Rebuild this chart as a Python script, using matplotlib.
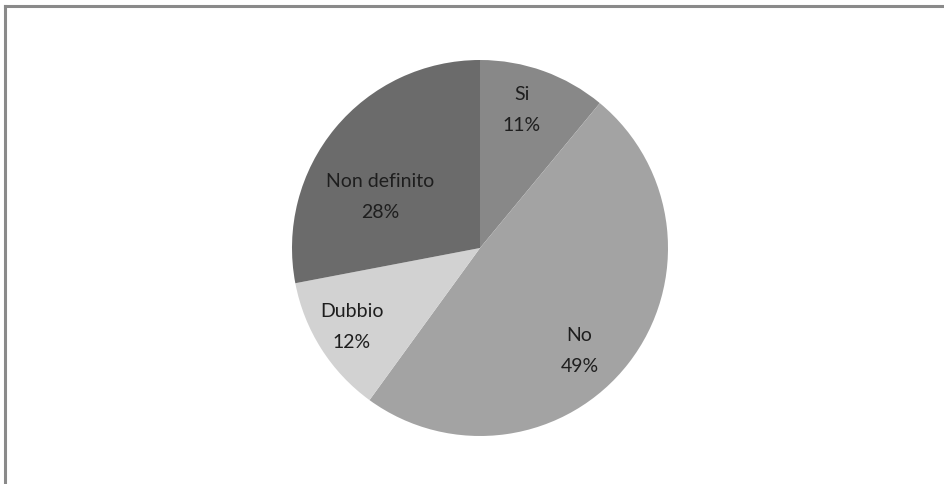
import numpy as np
import matplotlib
matplotlib.use("Agg")
import matplotlib.pyplot as plt
from matplotlib.lines import Line2D

# Survey answers
categories = ["Si", "No", "Dubbio", "Non definito"]
percentages = [11, 49, 12, 28]

colors = ["#888888", "#a3a3a3", "#d2d2d2", "#6b6b6b"]
# label placement: radial distance and angular nudge (degrees) per slice
label_dist = [0.77, 0.76, 0.80, 0.60]
label_shift = [3, -8, -1, 12]

plt.rcParams["font.family"] = ["Lato", "DejaVu Sans"]

fig = plt.figure(figsize=(9.44, 4.85), dpi=100)
fig.patch.set_facecolor("white")

# Chart frame (top and left edges visible)
fig.add_artist(Line2D([5 / 944, 1.0], [1 - 7 / 485, 1 - 7 / 485],
                      transform=fig.transFigure, color="#8a8a8a", lw=2.2))
fig.add_artist(Line2D([5 / 944, 5 / 944], [0.0, 1 - 7 / 485],
                      transform=fig.transFigure, color="#8a8a8a", lw=2.2))

cx, cy, r = 480 / 944, 1 - 249 / 485, 188
ax = fig.add_axes([cx - r / 944, cy - r / 485, 2 * r / 944, 2 * r / 485])
wedges, _ = ax.pie(percentages, colors=colors, startangle=90, counterclock=False,
                   radius=1.0, wedgeprops=dict(linewidth=0))
ax.set_xlim(-1, 1)
ax.set_ylim(-1, 1)
ax.set_aspect("auto")
ax.axis("off")

for w, name, pct, d, s in zip(wedges, categories, percentages, label_dist, label_shift):
    mid = np.deg2rad((w.theta1 + w.theta2) / 2 + s)
    ax.text(d * np.cos(mid), d * np.sin(mid), f"{name}\n{pct}%",
            ha="center", va="center", fontsize=14, color="#1e1e1e",
            linespacing=2.0)

fig.savefig("out.png", dpi=100, facecolor="white")
